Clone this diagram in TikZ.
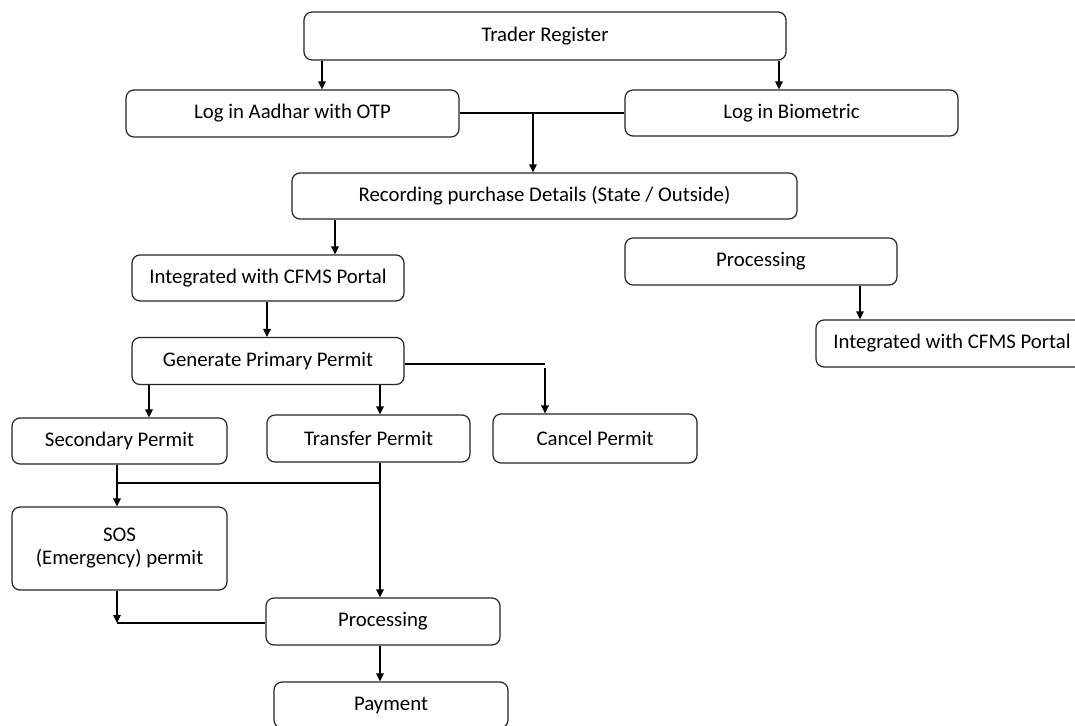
\documentclass[tikz,border=0pt]{standalone}
\usepackage{fontspec}
\setmainfont{Carlito}
\usetikzlibrary{arrows.meta}
\begin{document}
\begin{tikzpicture}[x=1pt,y=-1pt,
  box/.style={draw=black!85, line width=1.2pt, rounded corners=8pt, inner sep=0pt,
    align=center, font=\fontsize{20.8}{23}\selectfont, text=black},
  link/.style={line width=1.3pt, draw=black},
  arr/.style={link, -{Triangle[length=8pt,width=7.5pt]}}]
\useasboundingbox[fill=white] (0,0) rectangle (1075,725);

% boxes (centre, width, height)
\node[box, minimum width=482pt, minimum height=48pt] (trader) at (545,36) {Trader Register};
\node[box, minimum width=333pt, minimum height=47pt] (aadhar) at (292.5,113.5) {Log in Aadhar with OTP};
\node[box, minimum width=333pt, minimum height=46pt] (bio) at (791.5,113) {Log in Biometric};
\node[box, minimum width=505pt, minimum height=46pt] (rec) at (544.5,196) {Recording purchase Details (State / Outside)};
\node[box, minimum width=272pt, minimum height=46pt] (intL) at (268,278) {Integrated with CFMS Portal};
\node[box, minimum width=272pt, minimum height=47pt] (procR) at (761,261.5) {Processing};
\node[box, minimum width=272pt, minimum height=47pt] (intR) at (952,343.5) {Integrated with CFMS Portal};
\node[box, minimum width=272pt, minimum height=47pt] (gen) at (268,361) {Generate Primary Permit};
\node[box, minimum width=215pt, minimum height=46pt] (sec) at (119.5,441) {Secondary Permit};
\node[box, minimum width=203pt, minimum height=47pt] (trans) at (368.5,438.5) {Transfer Permit};
\node[box, minimum width=204pt, minimum height=49pt] (cancel) at (595,438.5) {Cancel Permit};
\node[box, minimum width=215pt, minimum height=83pt] (sos) at (119.5,548.5) {SOS\\(Emergency) permit};
\node[box, minimum width=234pt, minimum height=47pt] (proc) at (383,621.5) {Processing};
\node[box, minimum width=234pt, minimum height=46pt] (pay) at (391,705) {Payment};

% junction points
\coordinate (jA) at (533,113);
\coordinate (jC1) at (545,364);
\coordinate (jC2) at (545,368);
\coordinate (jS) at (117,483);
\coordinate (jT) at (380,483);
\coordinate (jP) at (117,623);

% connectors
\draw[arr] (trader.south -| 322,0) -- (aadhar.north -| 322,0);
\draw[arr] (trader.south -| 779,0) -- (bio.north -| 779,0);
\draw[link] (aadhar.east |- jA) -- (bio.west |- jA);
\draw[arr] (jA) -- (jA |- rec.north);
\draw[arr] (rec.south -| 335,0) -- (intL.north -| 335,0);
\draw[arr] (procR.south -| 860,0) -- (intR.north -| 860,0);
\draw[arr] (intL.south -| 267,0) -- (gen.north -| 267,0);
\draw[link] (gen.east |- jC1) -- (jC1);
\draw[arr] (jC2) -- (jC2 |- cancel.north);
\draw[arr] (gen.south -| 149,0) -- (sec.north -| 149,0);
\draw[arr] (gen.south -| 380,0) -- (trans.north -| 380,0);
\draw[arr] (sec.south -| jS) -- (sos.north -| jS);
\draw[link] (jS) -- (jT);
\draw[arr] (trans.south -| jT) -- (proc.north -| jT);
\draw[arr] (sos.south -| jP) -- (jP);
\draw[link] (jP) -- (proc.west |- jP);
\draw[arr] (proc.south -| 380,0) -- (pay.north -| 380,0);
\end{tikzpicture}
\end{document}
